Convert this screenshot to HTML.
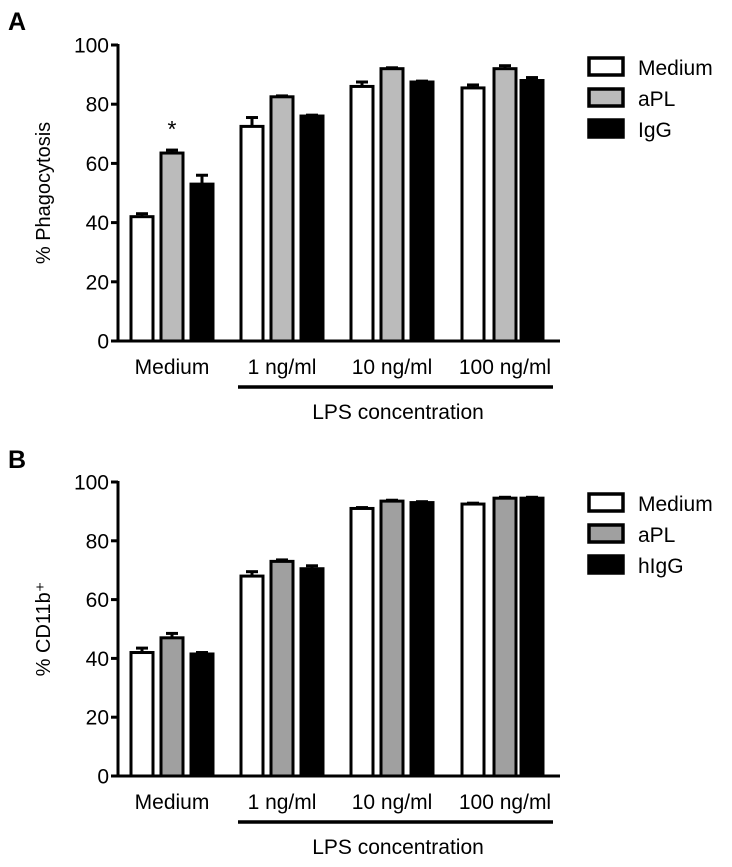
<!DOCTYPE html>
<html><head><meta charset="utf-8"><style>
body{margin:0;background:#fff}
svg text{font-family:"Liberation Sans",Arial,sans-serif;fill:#000}
</style></head><body>
<svg width="732" height="862" viewBox="0 0 732 862" id="fig"></svg>
<script>
const categories=["Medium","1 ng/ml","10 ng/ml","100 ng/ml"];
const tickLabels=[0,20,40,60,80,100];
const aMedium=[42,72.5,86,85.5], aMediumErr=[1,3,1.5,1];
const aAPL=[63.5,82.5,92,92], aAPLErr=[1,0.3,0.3,1];
const aIgG=[53,76,87.5,88], aIgGErr=[3,0.3,0.3,1];
const bMedium=[42,68,91,92.5], bMediumErr=[1.5,1.5,0.3,0.3];
const bAPL=[47,73,93.5,94.5], bAPLErr=[1.5,0.5,0.3,0.3];
const bIgG=[41.5,70.5,93,94.5], bIgGErr=[0.5,1,0.3,0.3];
const seriesNamesA=["Medium","aPL","IgG"], seriesNamesB=["Medium","aPL","hIgG"];

const NS="http://www.w3.org/2000/svg", svg=document.getElementById('fig');
function el(t,a,p){const e=document.createElementNS(NS,t);for(const k in a)e.setAttribute(k,a[k]);(p||svg).appendChild(e);return e;}
function txt(s,a,p){const e=el('text',a,p);e.textContent=s;return e;}

function panel(o){
  const g=el('g',{});
  
  
  const y=v=>o.y0-(o.y0-o.y100)*v/100;
  const x=(ci,si)=>131+ci*110+si*30+(ci===3?[1,3,0][si]:0);
  const l=txt(o.letter,{x:8,y:o.letterY,'font-size':25,'font-weight':'bold'},g);
  
  const yt=txt(o.ytitle,{transform:`translate(50,${(o.y0+o.y100)/2}) rotate(-90)`,'text-anchor':'middle','font-size':20},g);
  
  tickLabels.forEach(t=>{
    const tk=el('line',{x1:111,x2:118,y1:y(t),y2:y(t),stroke:'#000','stroke-width':3},g);
    
    const tl=txt(String(t),{x:109,y:y(t)+7.5,'text-anchor':'end','font-size':21},g);
    
  });
  const series=[[o.s[0],o.e[0],'#fff'],[o.s[1],o.e[1],o.grey],[o.s[2],o.e[2],'#000']];
  series.forEach((s,si)=>{
    s[0].forEach((v,ci)=>{
      const bx=x(ci,si), w=22, cx=bx+w/2;
      const eb=el('line',{x1:cx,x2:cx,y1:y(v),y2:y(v+s[1][ci]),stroke:'#000','stroke-width':3},g);
      
      const ec=el('line',{x1:cx-6,x2:cx+6,y1:y(v+s[1][ci]),y2:y(v+s[1][ci]),stroke:'#000','stroke-width':3},g);
      
      const r=el('rect',{x:bx,y:y(v),width:w,height:o.y0-y(v),fill:s[2],stroke:'#000','stroke-width':3},g);
      
    });
  });
  const ya=el('line',{x1:118,x2:118,y1:o.y100-1,y2:o.y0+1.5,stroke:'#000','stroke-width':3},g);
  
  const xa=el('line',{x1:118,x2:560,y1:o.y0,y2:o.y0,stroke:'#000','stroke-width':3},g);
  
  categories.forEach((c,ci)=>{
    const t=txt(c,{x:x(ci,1)+11,y:o.y0+33,'text-anchor':'middle','font-size':21},g);
    
  });
  const ul=el('line',{x1:238,x2:553,y1:o.y0+46,y2:o.y0+46,stroke:'#000','stroke-width':3.5},g);
  
  const lp=txt('LPS concentration',{x:398,y:o.y0+78,'text-anchor':'middle','font-size':21},g);
  
  if(o.star){const st=txt('*',{x:x(0,1)+11,y:y(o.s[1][0])-16,'text-anchor':'middle','font-size':23},g);
    }
  const fills=['#fff',o.grey,'#000'];
  o.names.forEach((n,i)=>{
    const ly=o.legY+i*31;
    const b=el('rect',{x:589,y:ly,width:34,height:17,fill:fills[i],stroke:'#000','stroke-width':3.5},g);
    
    const t=txt(n,{x:638,y:ly+17,'font-size':21},g);
    
  });
}
panel({name:'panel-a',letter:'A',letterY:30,ytitle:'% Phagocytosis',y0:341,y100:45,grey:'#bbbbbb',
  s:[aMedium,aAPL,aIgG],e:[aMediumErr,aAPLErr,aIgGErr],names:seriesNamesA,legY:58,star:true});
panel({name:'panel-b',letter:'B',letterY:468,ytitle:'% CD11b\u207A',y0:776,y100:482,grey:'#a0a0a0',
  s:[bMedium,bAPL,bIgG],e:[bMediumErr,bAPLErr,bIgGErr],names:seriesNamesB,legY:494,star:false});
</script>
</body></html>
